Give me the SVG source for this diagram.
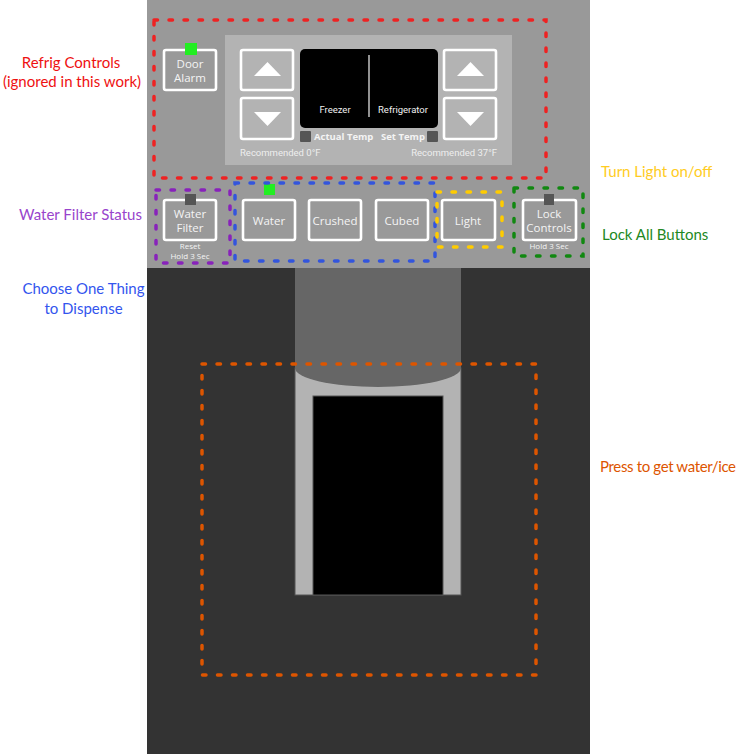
<svg xmlns="http://www.w3.org/2000/svg" width="744" height="754" viewBox="0 0 744 754">
<style>
.btn{fill:#999999;stroke:#ffffff;stroke-width:2.6}
.abtn{fill:#b3b3b3;stroke:#ffffff;stroke-width:2.6}
.tri{fill:#ffffff}
.bt{font-family:"Open Sans","Noto Sans",sans-serif;font-size:11.5px;fill:#f4f4f4;text-anchor:middle}
.sm{font-family:"Open Sans","Noto Sans",sans-serif;font-size:8px;fill:#f4f4f4;text-anchor:middle}
.dt{font-family:Roboto,"Liberation Sans",sans-serif;font-size:9.5px;fill:#f0f0f0;text-anchor:middle}
.tb{font-family:"Open Sans","Noto Sans",sans-serif;font-size:9.5px;font-weight:bold;fill:#f4f4f4}
.rec{font-family:Roboto,"Liberation Sans",sans-serif;font-size:9.5px;fill:#eeeeee}
.led{fill:#555555}
.ledon{fill:#22ee22}
.dash{fill:none;stroke-width:3.5;stroke-linecap:round;stroke-dasharray:3.5 11.5}
.lab{font-family:Lato,"Noto Sans",sans-serif;font-size:15px}
</style>
<rect x="0" y="0" width="744" height="754" fill="#ffffff"/>
<g id="panel">
<rect x="147" y="0" width="443" height="268" fill="#999999"/>
<rect x="147" y="268" width="443" height="486" fill="#333333"/>
<rect x="225" y="35" width="287" height="130" fill="#b3b3b3"/>
</g>
<g id="door-alarm">
<rect class="btn" x="164" y="50" width="52" height="40" rx="2"/>
<rect class="ledon" x="185" y="43" width="12" height="12"/>
<text class="bt" x="190" y="67.5">Door</text>
<text class="bt" x="190" y="82">Alarm</text>
</g>
<g id="freezer-arrows">
<rect class="abtn" x="241" y="50" width="52" height="40" rx="2"/>
<polygon class="tri" points="254,76 281,76 267.5,62"/>
<rect class="abtn" x="241" y="98" width="52" height="41" rx="2"/>
<polygon class="tri" points="254,112 281,112 267.5,126"/>
</g>
<g id="refrigerator-arrows">
<rect class="abtn" x="444" y="50" width="52" height="40" rx="2"/>
<polygon class="tri" points="457,76 484,76 470.5,62"/>
<rect class="abtn" x="444" y="98" width="52" height="41" rx="2"/>
<polygon class="tri" points="457,112 484,112 470.5,126"/>
</g>
<g id="display">
<rect x="300" y="49" width="138" height="79" rx="5" fill="#000000"/>
<line x1="369" y1="55" x2="369" y2="117" stroke="#e0e0e0" stroke-width="1.3"/>
<text class="dt" x="335" y="113">Freezer</text>
<text class="dt" x="403" y="113">Refrigerator</text>
<rect class="led" x="300" y="131" width="11" height="11" rx="1"/>
<text class="tb" x="314" y="140">Actual Temp</text>
<text class="tb" x="381" y="140">Set Temp</text>
<rect class="led" x="427" y="131" width="11" height="11" rx="1"/>
<text class="rec" x="240" y="156">Recommended 0°F</text>
<text class="rec" x="497" y="156" text-anchor="end">Recommended 37°F</text>
</g>
<g id="water-filter">
<rect class="btn" x="164" y="200" width="52" height="40" rx="2"/>
<rect class="led" x="185" y="194" width="11" height="11"/>
<text class="bt" x="190" y="217.5">Water</text>
<text class="bt" x="190" y="232">Filter</text>
<text class="sm" x="190" y="248.5">Reset</text>
<text class="sm" x="190" y="258.5">Hold 3 Sec</text>
</g>
<g id="water">
<rect class="btn" x="243" y="200" width="52" height="40" rx="2"/>
<rect class="ledon" x="264" y="184" width="11" height="11"/>
<text class="bt" x="269" y="225">Water</text>
</g>
<g id="crushed">
<rect class="btn" x="309" y="200" width="52" height="40" rx="2"/>
<text class="bt" x="335" y="225">Crushed</text>
</g>
<g id="cubed">
<rect class="btn" x="376" y="200" width="52" height="40" rx="2"/>
<text class="bt" x="402" y="225">Cubed</text>
</g>
<g id="light">
<rect class="btn" x="442" y="200" width="53" height="40" rx="2"/>
<text class="bt" x="468" y="225">Light</text>
</g>
<g id="lock-controls">
<rect class="btn" x="523" y="200" width="53" height="40" rx="2"/>
<rect class="led" x="544" y="194" width="10" height="11"/>
<text class="bt" x="549" y="217.5">Lock</text>
<text class="bt" x="549" y="232">Controls</text>
<text class="sm" x="549" y="249">Hold 3 Sec</text>
</g>
<g id="dispenser">
<rect x="295" y="368" width="166" height="227" fill="#b3b3b3" stroke="#555555" stroke-width="1"/>
<path d="M295,268 H461 V368 A83,19 0 0 1 295,368 Z" fill="#666666"/>
<rect x="313" y="396" width="130" height="199" fill="#000000" stroke="#555555" stroke-width="1"/>
</g>
<g id="highlights">
<rect class="dash" x="154" y="20" width="392" height="158" stroke="#ee2222"/>
<rect class="dash" x="156" y="190" width="74" height="73" stroke="#8822bb"/>
<rect class="dash" x="235" y="183" width="200" height="78" stroke="#3355dd"/>
<rect class="dash" x="437" y="192" width="65" height="55" stroke="#ffcc00"/>
<rect class="dash" x="514" y="188" width="69" height="68" stroke="#118811"/>
<rect class="dash" x="202" y="364" width="334" height="311" stroke="#dd5500"/>
</g>
<g id="labels">
<text class="lab" x="71" y="68" text-anchor="middle" fill="#ee1111">Refrig Controls</text>
<text class="lab" x="72" y="87" text-anchor="middle" fill="#ee1111">(ignored in this work)</text>
<text class="lab" x="80.5" y="220" text-anchor="middle" fill="#9944cc">Water Filter Status</text>
<text class="lab" x="83.5" y="294" text-anchor="middle" fill="#3355ee">Choose One Thing</text>
<text class="lab" x="83.5" y="314" text-anchor="middle" fill="#3355ee">to Dispense</text>
<text class="lab" x="601" y="177" fill="#ffcc22">Turn Light on/off</text>
<text class="lab" x="602" y="240" fill="#228822">Lock All Buttons</text>
<text class="lab" x="600" y="472" fill="#dd5500" letter-spacing="-0.35">Press to get water/ice</text>
</g>
</svg>
